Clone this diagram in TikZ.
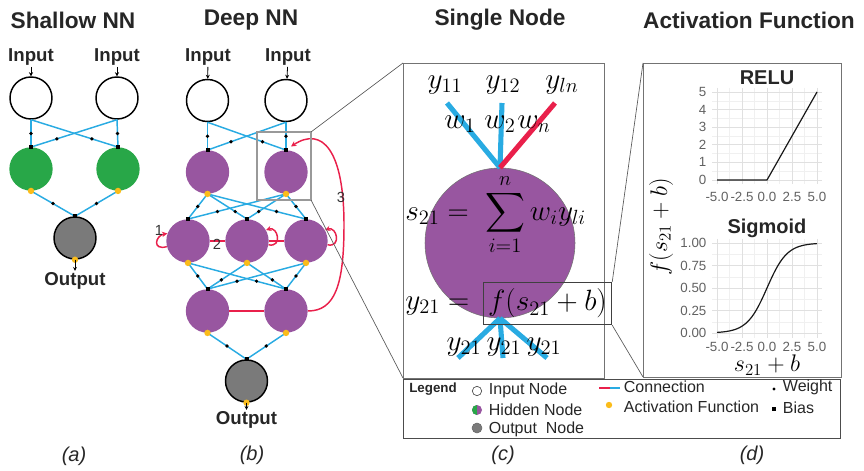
\documentclass[tikz,border=0pt]{standalone}
\usepackage{fix-cm}
\usepackage{exscale}
\usepackage[no-math]{fontspec}
\setmainfont{Liberation Sans}
\usetikzlibrary{arrows.meta}
\definecolor{nnblue}{RGB}{41,171,226}
\definecolor{nnred}{RGB}{233,32,75}
\definecolor{nngreen}{RGB}{40,167,72}
\definecolor{nnpurple}{RGB}{152,86,160}
\definecolor{nngray}{RGB}{122,122,122}
\definecolor{nnyellow}{RGB}{251,188,26}
\tikzset{
  ttl/.style={font=\fontsize{17}{20}\selectfont\bfseries, text=black!85, inner sep=1pt},
  lab/.style={font=\fontsize{14}{16}\selectfont\bfseries, text=black!85, inner sep=1pt},
  captxt/.style={font=\fontsize{15}{18}\selectfont\itshape, text=black!85, inner sep=1pt},
  inp/.style={circle, draw=black, line width=1.1pt, fill=white, minimum size=31.5pt, inner sep=0pt},
  hidg/.style={circle, fill=nngreen, minimum size=32.5pt, inner sep=0pt},
  hidp/.style={circle, fill=nnpurple, minimum size=32.5pt, inner sep=0pt},
  outn/.style={circle, draw=black, line width=1.1pt, fill=nngray, minimum size=31.5pt, inner sep=0pt},
  conn/.style={nnblue, line width=1.1pt},
  rconn/.style={nnred, line width=1.1pt},
  rarr/.style={rconn, -{Stealth[length=4pt,width=4pt]}},
  inarr/.style={black, line width=0.6pt, -{Stealth[length=3pt,width=3pt]}},
  wdot/.style={circle, fill=black, minimum size=2.8pt, inner sep=0pt},
  bsq/.style={rectangle, fill=black, minimum size=3pt, inner sep=0pt},
  act/.style={circle, fill=nnyellow, minimum size=4.8pt, inner sep=0pt},
  numlab/.style={font=\fontsize{11}{13}\selectfont, text=black!80, inner sep=0.5pt},
  zoomrect/.style={draw=black!40, line width=0.9pt},
  zoomline/.style={draw=black!65, line width=0.5pt},
  boxline/.style={draw=black!55, line width=0.7pt},
  bigmath/.style={font=\fontsize{22}{26}\selectfont, inner sep=0pt},
  thickb/.style={nnblue, line width=3.8pt},
  thickr/.style={nnred, line width=3.8pt},
  ticklab/.style={font=\fontsize{10}{12}\selectfont, text=black!62, inner sep=0.3pt},
  ptitle/.style={font=\fontsize{15}{18}\selectfont\bfseries, text=black!85, inner sep=0.5pt},
  gmaj/.style={draw=black!12, line width=0.5pt},
  gmin/.style={draw=black!6, line width=0.35pt},
  curve/.style={draw=black!90, line width=0.9pt},
  legt/.style={font=\fontsize{12}{14}\selectfont, text=black!85, inner sep=0.5pt, anchor=west},
}
\begin{document}
\begin{tikzpicture}[x=0.75pt,y=-0.75pt]
\useasboundingbox (0,0) rectangle (864,471);

% ---------------- titles
\node[ttl] (tA) at (73,20) {Shallow NN};
\node[ttl] (tB) at (251,20) {Deep NN};
\node[ttl] (tC) at (500,20) {Single Node};
\node[ttl] (tD) at (749,20) {Activation Function};

% ---------------- panel (a)
\node[lab] (aIn1) at (31,57) {Input};
\node[lab] (aIn2) at (117,57) {Input};
\node[inp] (ai1) at (31,98) {};
\node[inp] (ai2) at (117,98) {};
\node[hidg] (ah1) at (31,169) {};
\node[hidg] (ah2) at (118,169) {};
\node[outn] (ao) at (75,238) {};
\node[lab] (aOut) at (75,281) {Output};
\draw[inarr] (aIn1) -- (ai1);
\draw[inarr] (aIn2) -- (ai2);
\foreach \s/\t/\p [count=\k] in {ai1/ah1/.5, ai1/ah2/.7, ai2/ah2/.5, ai2/ah1/.7, ah1/ao/.5, ah2/ao/.5}
  \draw[conn] (\s.south) -- node[wdot, pos=\p] (aw\k) {} (\t.north);
\foreach \n [count=\k] in {ah1, ah2, ao}
  \node[bsq] (ab\k) at (\n.north) {};
\foreach \n [count=\k] in {ah1, ah2, ao}
  \node[act] (aa\k) at (\n.south) {};
\draw[inarr] (ao.south) -- (aOut);

% ---------------- panel (b)
\node[lab] (bIn1) at (208,57) {Input};
\node[lab] (bIn2) at (288,57) {Input};
\node[inp] (bi1) at (207.5,100.5) {};
\node[inp] (bi2) at (286,100.5) {};
\node[hidp] (b11) at (207.5,172) {};
\node[hidp] (b12) at (286,172) {};
\node[hidp] (b21) at (188,241) {};
\node[hidp] (b22) at (247,241) {};
\node[hidp] (b23) at (306,241) {};
\node[hidp] (b31) at (207.5,311) {};
\node[hidp] (b32) at (286,311) {};
\node[outn] (bo) at (246.5,381) {};
\node[lab] (bOut) at (246.5,420) {Output};
\draw[inarr] (bIn1) -- (bi1);
\draw[inarr] (bIn2) -- (bi2);
\foreach \s/\t/\p [count=\k] in {bi1/b11/.5, bi1/b12/.7, bi2/b12/.5, bi2/b11/.7,
   b11/b21/.5, b11/b22/.7, b11/b23/.7, b12/b21/.7, b12/b22/.7, b12/b23/.5,
   b21/b31/.5, b21/b32/.7, b22/b31/.65, b22/b32/.65, b23/b31/.7, b23/b32/.5,
   b31/bo/.5, b32/bo/.5}
  \draw[conn] (\s.south) -- node[wdot, pos=\p] (bw\k) {} (\t.north);
% recurrent connections
\draw[rconn] (b21.east) -- (b22.west);
\draw[rconn] (b22.east) -- (b23.west);
\draw[rconn] (b31.east) -- (b32.west);
\draw[rarr] (b21.195) .. controls +(-15,4) and +(-12,2) .. (b21.160);
\draw[rarr] (b22.-10) .. controls +(14,3) and +(12,-4) .. (b22.30);
\draw[rarr] (b23.-10) .. controls +(14,3) and +(12,-4) .. (b23.30);
\coordinate (c3end) at (291,146.5);
\draw[rarr] (b32.east) .. controls (335,311) and (344,285) .. (344,225)
   .. controls (344,150) and (322,126) .. (c3end);
\node[numlab] (n1) at (159,230) {1};
\node[numlab] (n2) at (217,244) {2};
\node[numlab] (n3) at (341,197) {3};
\foreach \n [count=\k] in {b11,b12,b21,b22,b23,b31,b32,bo}
  \node[bsq] (bb\k) at (\n.north) {};
\foreach \n [count=\k] in {b11,b12,b21,b22,b23,b31,b32,bo}
  \node[act] (ba\k) at (\n.south) {};
\draw[inarr] (bo.south) -- (bOut);

% zoom rectangle and lines
\coordinate (zrTL) at (257,132);
\coordinate (zrTR) at (311,132);
\coordinate (zrBR) at (311,200);
\draw[zoomrect] (zrTL) rectangle (zrBR);

% ---------------- panel (c)
\coordinate (cTL) at (403,63);
\coordinate (cBL) at (403,378);
\coordinate (cBR) at (604,378);
\draw[boxline] (cTL) rectangle (cBR);
\draw[zoomline] (zrTR) -- (cTL);
\draw[zoomline] (zrBR) -- (cBL);

\node[circle, fill=nnpurple, draw=black!55, line width=0.4pt, minimum size=112.5pt, inner sep=0pt] (cc) at (500,243) {};
\coordinate (ctA) at (447,103);
\coordinate (ctB) at (502,103);
\coordinate (ctC) at (555,103);
\coordinate (cbA) at (458,358);
\coordinate (cbB) at (503,358);
\coordinate (cbC) at (547,358);
\draw[thickb] (cc.north) -- (ctA);
\draw[thickb] (cc.north) -- (ctB);
\draw[thickr] (cc.north) -- (ctC);
\draw[thickb] (cc.south) -- (cbA);
\draw[thickb] (cc.south) -- (cbB);
\draw[thickb] (cc.south) -- (cbC);

\node[bigmath, anchor=base] (y11) at (445,88) {$y_{11}$};
\node[bigmath, anchor=base] (y12) at (503,88) {$y_{12}$};
\node[bigmath, anchor=base] (yln) at (562,88) {$y_{ln}$};
\node[bigmath, anchor=base] (w1) at (460,128) {$w_1$};
\node[bigmath, anchor=base] (w2) at (500,128) {$w_2$};
\node[bigmath, anchor=base] (wn) at (534,128) {$w_n$};
\node[bigmath, anchor=base west] (eqs) at (405,220) {$\displaystyle s_{21} =\; \sum_{i=1}^{n} w_i y_{li}$};
\node[bigmath, anchor=base west] (eqy) at (405,309) {$y_{21} =$};
\node[bigmath, draw=black!75, line width=0.6pt, minimum width=96.5pt, minimum height=32pt] (fb) at (547.5,303.5) {$f(s_{21}+b)$};
\node[bigmath, anchor=base] (yo1) at (464,350) {$y_{21}$};
\node[bigmath, anchor=base] (yo2) at (504,350) {$y_{21}$};
\node[bigmath, anchor=base] (yo3) at (544,350) {$y_{21}$};

% ---------------- panel (d)
\coordinate (dTL) at (643,63);
\coordinate (dBL) at (643,377);
\coordinate (dBR) at (841,377);
\draw[boxline] (dTL) rectangle (dBR);
\draw[zoomline] (fb.north east) -- (dTL);
\draw[zoomline] (fb.south east) -- (dBL);

% RELU grid
\foreach \gx in {729.5,754.5,779.5,804.5} \draw[gmin] (\gx,87.6) -- (\gx,184.4);
\foreach \gy in {171.2,153.6,136,118.4,100.8} \draw[gmin] (712,\gy) -- (822,\gy);
\foreach \gx in {717,742,767,792,817} \draw[gmaj] (\gx,87.6) -- (\gx,184.4);
\foreach \gy in {180,162.4,144.8,127.2,109.6,92} \draw[gmaj] (712,\gy) -- (822,\gy);
\draw[curve] (717,180) -- (767,180) -- (817,92);
\node[ptitle] (tRelu) at (767,78) {RELU};
\foreach \v [count=\k from 0] in {0,1,2,3,4,5}
  \node[ticklab, anchor=east] (ry\k) at (707,{180-17.6*\k}) {\v};
\foreach \v [count=\k from 0] in {-5.0,-2.5,0.0,2.5,5.0}
  \node[ticklab] (rx\k) at ({717+25*\k},197) {\v};

% Sigmoid grid
\foreach \gx in {729.5,754.5,779.5,804.5} \draw[gmin] (\gx,238.5) -- (\gx,337.5);
\foreach \gy in {321.75,299.25,276.75,254.25} \draw[gmin] (712,\gy) -- (822,\gy);
\foreach \gx in {717,742,767,792,817} \draw[gmaj] (\gx,238.5) -- (\gx,337.5);
\foreach \gy in {333,310.5,288,265.5,243} \draw[gmaj] (712,\gy) -- (822,\gy);
\draw[curve] plot[domain=0:10, samples=81, smooth] ({717+10*\x},{333-90/(1+exp(5-\x))});
\node[ptitle] (tSig) at (767,228) {Sigmoid};
\foreach \v [count=\k from 0] in {0.00,0.25,0.50,0.75,1.00}
  \node[ticklab, anchor=east] (sy\k) at (707,{333-22.5*\k}) {\v};
\foreach \v [count=\k from 0] in {-5.0,-2.5,0.0,2.5,5.0}
  \node[ticklab] (sx\k) at ({717+25*\k},347) {\v};

\node[font=\fontsize{18}{21}\selectfont, rotate=90, inner sep=0pt] (ylab) at (661,227) {$f(s_{21}+b)$};
\node[font=\fontsize{18}{21}\selectfont, inner sep=0pt] (xlab) at (767,365) {$s_{21}+b$};

% ---------------- legend
\coordinate (lTL) at (403,379);
\coordinate (lBR) at (840,438);
\draw[draw=black!70, line width=0.7pt] (lTL) rectangle (lBR);
\node[font=\fontsize{10}{12}\selectfont\bfseries, text=black!85, inner sep=0.5pt] (lLeg) at (433,389) {Legend};
\node[circle, draw=black!70, line width=0.5pt, fill=white, minimum size=7pt, inner sep=0pt] (lIn) at (477,391) {};
\node[circle, fill=nnpurple, minimum size=7.5pt, inner sep=0pt,
  path picture={\fill[nngreen] (path picture bounding box.north west) rectangle (path picture bounding box.south);}] (lHid) at (477,410) {};
\node[circle, draw=black!60, line width=0.4pt, fill=nngray, minimum size=7.5pt, inner sep=0pt] (lOut) at (477,428) {};
\node[legt] (tIn) at (488,390) {Input Node};
\node[legt] (tHid) at (488,410) {Hidden Node};
\node[legt] (tOut) at (488,429) {Output\ \ Node};
\coordinate (lc1) at (599,388);
\coordinate (lc2) at (609.5,388);
\coordinate (lc3) at (620,388);
\draw[nnred, line width=1.2pt] (lc1) -- (lc2);
\draw[nnblue, line width=1.2pt] (lc2) -- (lc3);
\node[legt] (tConn) at (623,387) {Connection};
\node[act] (lAct) at (609,405) {};
\node[legt] (tAct) at (623,407) {Activation Function};
\node[wdot, minimum size=2.6pt] (lW) at (774,389) {};
\node[legt] (tW) at (782,387) {Weight};
\node[bsq, minimum size=3.2pt] (lB) at (774,409) {};
\node[legt] (tB2) at (782,408) {Bias};

% ---------------- captions
\node[captxt] (capA) at (74,456) {(a)};
\node[captxt] (capB) at (252,455) {(b)};
\node[captxt] (capC) at (503,455) {(c)};
\node[captxt] (capD) at (752,455) {(d)};
\end{tikzpicture}
\end{document}
